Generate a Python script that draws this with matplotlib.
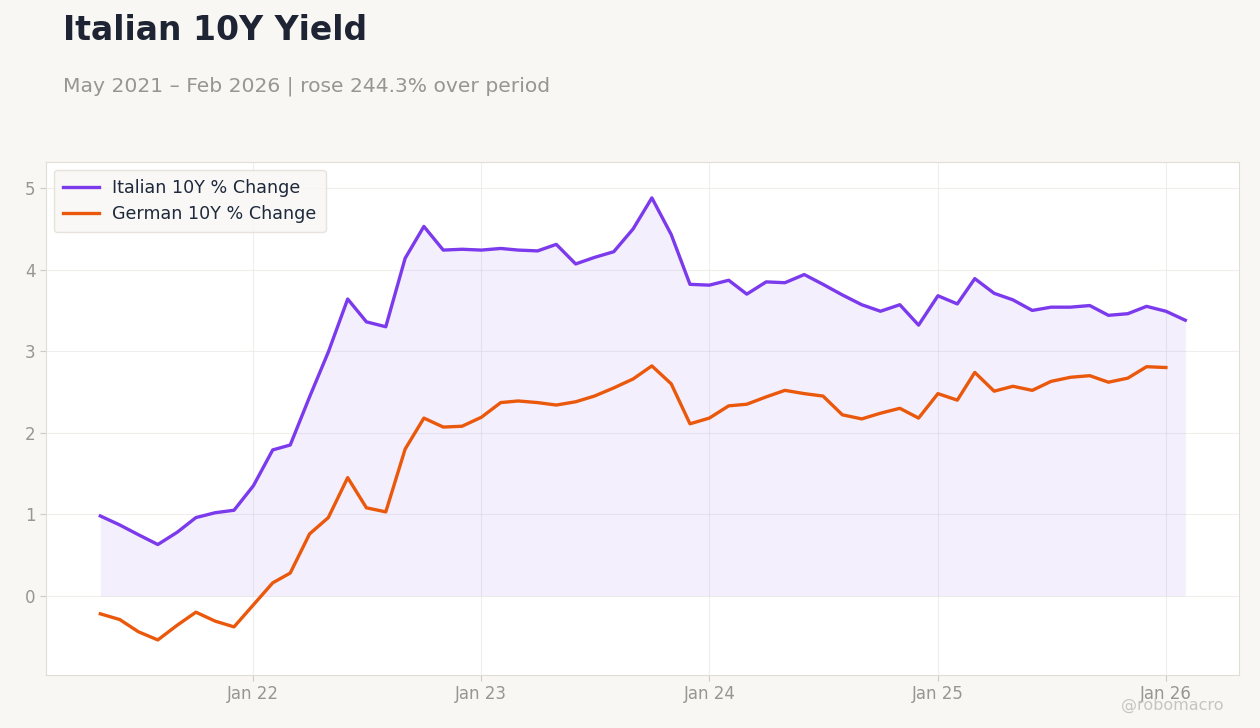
import pandas as pd
import matplotlib.pyplot as plt
import matplotlib.dates as mdates

# monthly % change values
italian = [0.98, 0.87, 0.75, 0.63, 0.78, 0.96, 1.02, 1.05, 1.35, 1.79,
           1.85, 2.44, 2.99, 3.64, 3.36, 3.30, 4.14, 4.53, 4.24, 4.25,
           4.24, 4.26, 4.24, 4.23, 4.31, 4.07, 4.15, 4.22, 4.50, 4.88,
           4.43, 3.82, 3.81, 3.87, 3.70, 3.85, 3.84, 3.94, 3.82, 3.69,
           3.57, 3.49, 3.57, 3.32, 3.68, 3.58, 3.89, 3.71, 3.63, 3.50,
           3.54, 3.54, 3.56, 3.44, 3.46, 3.55, 3.49, 3.38]
german = [-0.22, -0.29, -0.44, -0.54, -0.36, -0.20, -0.31, -0.38, -0.11, 0.16,
          0.28, 0.76, 0.96, 1.45, 1.08, 1.03, 1.80, 2.18, 2.07, 2.08,
          2.19, 2.37, 2.39, 2.37, 2.34, 2.38, 2.45, 2.55, 2.66, 2.82,
          2.60, 2.11, 2.18, 2.33, 2.35, 2.44, 2.52, 2.48, 2.45, 2.22,
          2.17, 2.24, 2.30, 2.18, 2.48, 2.40, 2.74, 2.51, 2.57, 2.52,
          2.63, 2.68, 2.70, 2.62, 2.67, 2.81, 2.80]
dates_it = pd.date_range("2021-05-01", periods=len(italian), freq="MS")
dates_de = pd.date_range("2021-05-01", periods=len(german), freq="MS")

bg = "#f8f7f4"
purple = "#7c3aed"
orange = "#ea580c"

fig = plt.figure(figsize=(12.6, 7.28), dpi=100, facecolor=bg)
ax = fig.add_axes([46/1260, 1-675/728, (1239-46)/1260, (675-162)/728])
ax.set_facecolor("white")

ax.fill_between(dates_it, 0, italian, color=purple, alpha=0.08, linewidth=0)
ax.plot(dates_it, italian, color=purple, lw=2.4, label="Italian 10Y % Change")
ax.plot(dates_de, german, color=orange, lw=2.4, label="German 10Y % Change")

ax.set_xlim(pd.Timestamp("2021-02-03"), pd.Timestamp("2026-04-28"))
ax.set_ylim(-0.97, 5.32)
ax.set_yticks([0, 1, 2, 3, 4, 5])
ax.xaxis.set_major_locator(mdates.YearLocator())
ax.xaxis.set_major_formatter(mdates.DateFormatter("%b %y"))

ax.grid(True, color="#ebe8e4", lw=0.8, alpha=0.7)
ax.set_axisbelow(True)
for s in ax.spines.values():
    s.set_color("#e2ddd5")
ax.tick_params(colors="#cfcac2", labelcolor="#999590", labelsize=12, length=4)

leg = ax.legend(loc="upper left", fontsize=12.6, frameon=True, facecolor=bg,
                edgecolor="#e2ddd5", handlelength=2.1, handletextpad=0.75,
                borderpad=0.5, borderaxespad=0.45)
for t in leg.get_texts():
    t.set_color("#1e293b")

fig.text(63/1260, 1-31/728, "Italian 10Y Yield", fontsize=23.8, fontweight="bold",
         color="#1e2433", va="center", ha="left")
fig.text(63/1260, 1-86/728, "May 2021 \u2013 Feb 2026 | rose 244.3% over period",
         fontsize=14.6, color="#999590", va="center", ha="left")
fig.text(1172/1260, 1-705/728, "@robomacro", fontsize=11.5, color="#c8c5c0",
         va="center", ha="center")

plt.savefig("out.png", dpi=100, facecolor=bg)
